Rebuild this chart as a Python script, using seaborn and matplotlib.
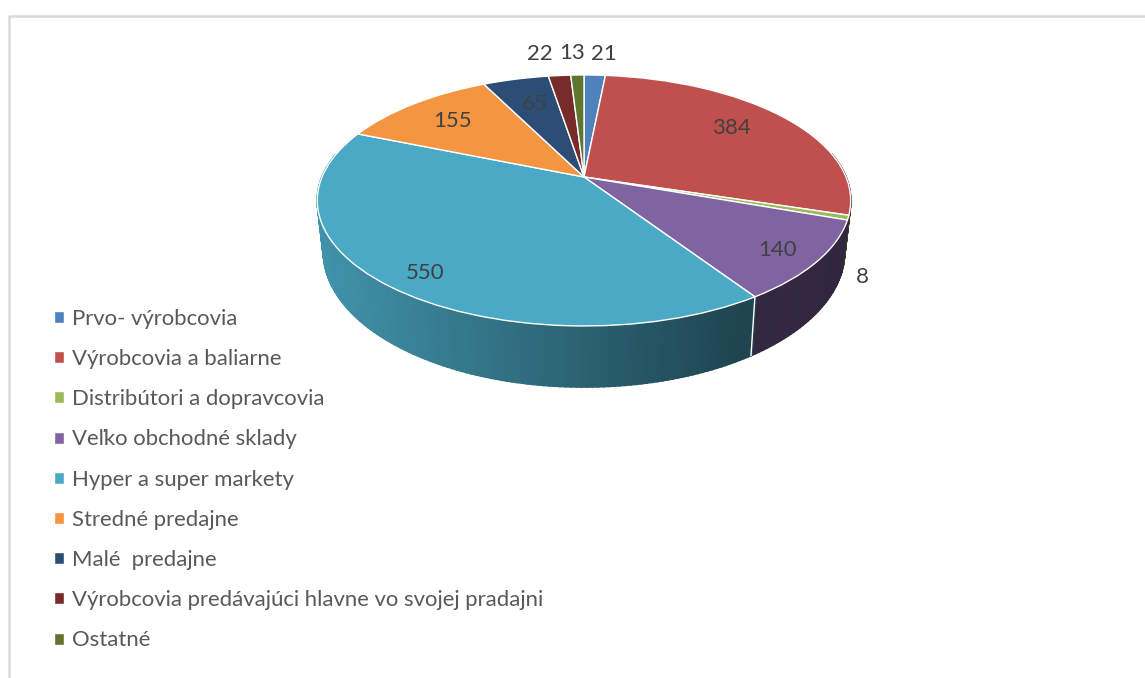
import numpy as np
import matplotlib
matplotlib.use("Agg")
import matplotlib.pyplot as plt
import seaborn as sns
from matplotlib.transforms import Transform

categories = ["Prvo- výrobcovia", "Výrobcovia a baliarne", "Distribútori a dopravcovia",
              "Veľko obchodné sklady", "Hyper a super markety", "Stredné predajne",
              "Malé  predajne", "Výrobcovia predávajúci hlavne vo svojej pradajni", "Ostatné"]
values = [21, 384, 8, 140, 550, 155, 65, 22, 13]
slice_colors = ["#4f81bd", "#c0504d", "#9bbb59", "#8064a2", "#4aa9c4",
                "#f49542", "#2c4d75", "#772c2a", "#5f7530"]

# pixel spots of the value labels, same order as values
label_x = [604, 731, 862, 778, 425, 453, 535, 540, 572]
label_y = [54, 128, 277, 250, 273, 121, 104, 54, 53]

CX, CY = 584, 177
RX, RY, K = 262.0, 121.1, 0.187
DEPTH = 49.6


def tilt(x, y):
    # perspective of the unit circle onto the page
    d = 1 + K * y
    return CX + RX * x / d, CY - RY * y / d


class Tilt(Transform):
    input_dims = 2
    output_dims = 2
    is_separable = False
    has_inverse = False

    def transform_non_affine(self, values):
        values = np.asarray(values)
        px, py = tilt(values[:, 0], values[:, 1])
        return np.column_stack([px, py])


def ring(theta):
    x, y = np.cos(theta), np.sin(theta)
    top = tilt(x, y)
    bottom = (CX + (top[0] - CX) * 0.977, top[1] + DEPTH / (1 + K * y))
    return top, bottom


sns.set_theme(style="white")
plt.rcParams["font.family"] = ["Lato", "DejaVu Sans"]

fig = plt.figure(figsize=(11.45, 6.78), dpi=100)
ax = fig.add_axes([0, 0, 1, 1])

wedges, _ = ax.pie(values, colors=sns.color_palette(slice_colors), startangle=90, counterclock=False,
                   wedgeprops=dict(edgecolor="white", linewidth=1.0))
ax.set_aspect("auto")
ax.set_xlim(0, 1145)
ax.set_ylim(678, 0)

tf = Tilt() + ax.transData
for w in wedges:
    w.set_transform(tf)
    w.set_zorder(3)

# side wall, shaded darker to the right
for w, col in zip(wedges, slice_colors):
    rgb = np.array(matplotlib.colors.to_rgb(col))
    angles = np.radians(np.arange(w.theta1, w.theta2 + 1.0, 1.0))
    angles = np.append(angles, np.radians(w.theta2))
    for a, b in zip(angles[:-1], angles[1:]):
        if np.sin((a + b) / 2) > 0.2:
            continue
        (x1, y1), (x2, y2) = ring(a)
        (x3, y3), (x4, y4) = ring(b)
        shade = np.interp((x1 + x3) / 2, [319, 600, 740, 850], [0.87, 0.56, 0.41, 0.38])
        c = rgb * shade
        ax.fill([x1, x3, x4, x2], [y1, y3, y4, y2], color=c, lw=1.3, zorder=2)

# white seam between the two front slices
seam = np.radians(wedges[3].theta1)
(sx1, sy1), (sx2, sy2) = ring(seam)
ax.plot([sx1, sx2], [sy1, sy2], color="white", lw=1.0, zorder=2.5)

for v, x, y in zip(values, label_x, label_y):
    ax.text(x, y, str(v), fontsize=16, color="#404040", ha="center", va="center", zorder=5)

# chart frame, only top and left are in the crop
ax.plot([9.0, 9.0, 1145], [678, 15.5, 15.5], color="#d9d9d9", lw=1.8, zorder=1)

leg = ax.legend(wedges, categories, loc="upper left", bbox_to_anchor=(0.0472, 0.5445), frameon=False,
                fontsize=15.9, labelcolor="#595959", handlelength=0.45, handleheight=0.45,
                handletextpad=0.37, labelspacing=0.915, borderpad=0, borderaxespad=0)

fig.savefig("out.png", dpi=100)
